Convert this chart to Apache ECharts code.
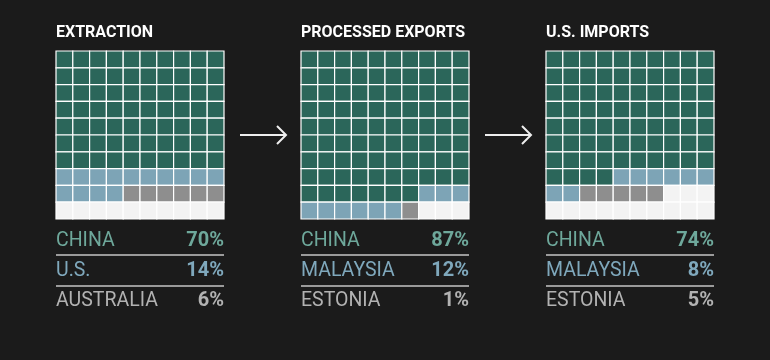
<!DOCTYPE html>
<html><head><meta charset="utf-8">
<script src="https://cdn.jsdelivr.net/npm/echarts@6/dist/echarts.min.js"></script>
<style>html,body{margin:0;padding:0;background:#1b1b1b;}#c{width:770px;height:360px;}</style>
</head><body><div id="c"></div>
<script>
// Panel titles
const titles = ['EXTRACTION', 'PROCESSED EXPORTS', 'U.S. IMPORTS'];
// Country names per panel (rank 1..3)
const countries = [
  ['CHINA', 'U.S.', 'AUSTRALIA'],
  ['CHINA', 'MALAYSIA', 'ESTONIA'],
  ['CHINA', 'MALAYSIA', 'ESTONIA']
];
// Shares shown as labels (%)
const shares = [
  [70, 14, 6],
  [87, 12, 1],
  [74, 8, 5]
];
// Number of waffle cells drawn for each country (as in the picture)
const cells = [
  [70, 14, 6],
  [87, 9, 1],
  [74, 8, 5]
];

const fillColors = ['#2b665a', '#7da4b6', '#8e8e8e', '#f3f3f3'];
const textColors = ['#6ea89b', '#7fa8bc', '#b2b2b2'];

const gridLeft = [56, 301, 546];
const gridTop = 51, gridSize = 168;

const chart = echarts.init(document.getElementById('c'), null, {renderer: 'canvas'});

const grids = [], xAxes = [], yAxes = [], series = [], graphics = [];

for (let p = 0; p < 3; p++) {
  grids.push({left: gridLeft[p], top: gridTop, width: gridSize, height: gridSize});
  xAxes.push({type: 'value', gridIndex: p, min: -0.5, max: 9.5, show: false});
  yAxes.push({type: 'value', gridIndex: p, min: -0.5, max: 9.5, inverse: true, show: false});
  const data = [];
  let idx = 0;
  for (let c = 0; c < 3; c++) {
    for (let k = 0; k < cells[p][c]; k++) {
      data.push([idx % 10, Math.floor(idx / 10), c]);
      idx++;
    }
  }
  while (idx < 100) {
    data.push([idx % 10, Math.floor(idx / 10), 3]);
    idx++;
  }
  series.push({
    type: 'custom',
    xAxisIndex: p, yAxisIndex: p,
    silent: true,
    data: data,
    renderItem: function (params, api) {
      const pt = api.coord([api.value(0), api.value(1)]);
      const sz = api.size([1, 1]);
      const cat = api.value(2);
      return {
        type: 'rect',
        shape: {x: pt[0] - sz[0] / 2, y: pt[1] - sz[1] / 2, width: sz[0], height: sz[1]},
        style: {fill: fillColors[cat], stroke: '#ffffff', lineWidth: 1.2}
      };
    }
  });

  // title
  graphics.push({
    type: 'text', left: gridLeft[p], top: 25,
    style: {text: titles[p], fill: '#ffffff', font: 'bold 16px Roboto'}
  });
  // rows of labels
  const rowY = [241, 271, 301];
  for (let c = 0; c < 3; c++) {
    graphics.push({
      type: 'text', x: gridLeft[p], y: rowY[c],
      style: {text: countries[p][c], fill: textColors[c], font: '19.5px Roboto', textVerticalAlign: 'middle', textAlign: 'left'}
    });
    graphics.push({
      type: 'text', x: gridLeft[p] + gridSize, y: rowY[c],
      style: {text: shares[p][c] + '%', fill: textColors[c], font: 'bold 20px Roboto', textVerticalAlign: 'middle', textAlign: 'right'}
    });
  }
  // separators
  [255, 286].forEach(function (yy) {
    graphics.push({
      type: 'line', shape: {x1: gridLeft[p], y1: yy, x2: gridLeft[p] + gridSize, y2: yy},
      style: {stroke: '#9a9a9a', lineWidth: 2}
    });
  });
  // arrow
  if (p < 2) {
    const ax = gridLeft[p] + gridSize + 16;
    graphics.push({
      type: 'line', shape: {x1: ax, y1: 135, x2: ax + 46, y2: 135},
      style: {stroke: '#eeeeee', lineWidth: 2}
    });
    graphics.push({
      type: 'polyline', shape: {points: [[ax + 37, 126], [ax + 46, 135], [ax + 37, 144]]},
      style: {stroke: '#eeeeee', lineWidth: 2, fill: null}
    });
  }
}

chart.setOption({
  backgroundColor: '#1b1b1b',
  animation: false,
  grid: grids,
  xAxis: xAxes,
  yAxis: yAxes,
  series: series,
  graphic: graphics
});
</script></body></html>
